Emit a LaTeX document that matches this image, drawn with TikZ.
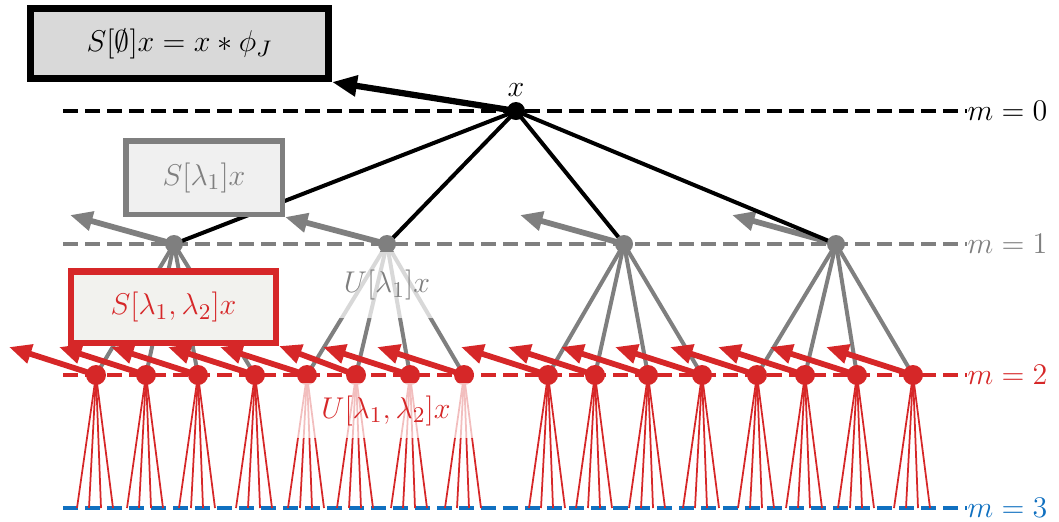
\documentclass[tikz,border=0pt]{standalone}
\usepackage{amsmath,amssymb}
\usepackage{tikz}
\usetikzlibrary{arrows.meta,positioning}
\usepackage{xcolor}
\definecolor{lvlgray}{HTML}{7F7F7F}
\definecolor{lvlred}{HTML}{D62728}
\definecolor{lvlblue}{HTML}{1070C0}
\definecolor{boxgray}{HTML}{D9D9D9}
\definecolor{boxlight}{HTML}{F0F0F0}
\definecolor{boxwarm}{HTML}{F2F2EE}
\newcommand{\lblsize}{\fontsize{13}{16}\selectfont}
\tikzset{
  levelline/.style={line width=1.8pt,dash pattern=on 6pt off 2.8pt},
  levellabel/.style={anchor=west,inner sep=0pt,font=\lblsize},
  outbox/.style={inner sep=0pt,font=\lblsize},
  fadelabel/.style={fill=white,fill opacity=0.7,text opacity=1,inner sep=0pt,font=\lblsize},
  outarrow/.style={line width=2.3pt,-{Triangle[length=9pt,width=7.5pt]}},
  treeedge/.style={line width=1.6pt},
}
\begin{document}
\begin{tikzpicture}[x=0.4pt,y=-0.4pt]
\useasboundingbox (0,0) rectangle (1059,521);
% levels m=0..3
\foreach \lv/\ly/\lc in {0/111/black,1/244/lvlgray,2/375/lvlred,3/508/lvlblue}{
  \node[levellabel,text=\lc] (m\lv) at (967,\ly) {$m=\lv$};
  \coordinate (s\lv) at (63,\ly);
  \draw[levelline,\lc] (s\lv) -- (m\lv.west);
}
% positions of the paths
\coordinate (x0) at (516,111);
\foreach \i/\px in {1/174,2/387,3/624,4/836}
  \coordinate (a\i) at (\px,244);
\foreach \i/\px in {1/96,2/146,3/198,4/255,5/307,6/356,7/410,8/464,9/548,10/595,11/648,12/702,13/757,14/805,15/857,16/913}
  \coordinate (b\i) at (\px,375);
% m=2 -> m=3
\foreach \i in {1,...,16}
  \foreach \d in {-19,-7,5,17}
    \draw[lvlred,line width=0.7pt] (b\i) -- ++(\d,133);
% outputs of m=1
\foreach \i in {1,3,4}
  \draw[outarrow,lvlgray] (a\i) -- ++(-104,-29);
% m=1 -> m=2
\foreach \j in {1,...,16}{
  \pgfmathtruncatemacro{\k}{div(\j-1,4)+1}
  \draw[treeedge,lvlgray] (a\k) -- (b\j);
}
% m=0 -> m=1
\foreach \i in {1,...,4}
  \draw[treeedge] (x0) -- (a\i);
\node[outbox,draw=lvlgray,line width=2.2pt,fill=boxlight,text=lvlgray,minimum width=62.6pt,minimum height=29.4pt] (sl1) at (204,177.5) {$S[\lambda_1]x$};
\draw[outarrow,lvlgray] (a2) -- (sl1.south east);
\node[outbox,draw=lvlred,line width=2.6pt,fill=boxwarm,text=lvlred,minimum width=81.8pt,minimum height=28.6pt] (sl2) at (173.5,307) {$S[\lambda_1,\lambda_2]x$};
% outputs of m=2
\foreach \i in {1,...,5,7,8,...,16}
  \draw[outarrow,lvlred] (b\i) -- ++(-87,-28);
\draw[outarrow,lvlred] (b6) -- (sl2.south east);
% output of m=0
\node[outbox,draw=black,line width=2.8pt,fill=boxgray,minimum width=119.2pt,minimum height=28pt] (sl0) at (179.5,43.5) {$S[\emptyset]x = x * \phi_J$};
\draw[outarrow,line width=2.5pt,-{Triangle[length=10pt,width=8pt]}] (x0) -- (sl0.south east);
% dots
\fill (x0) circle (3.6pt);
\foreach \i in {1,...,4}
  \fill[lvlgray] (a\i) circle (3.6pt);
\foreach \i in {1,...,16}
  \fill[lvlred] (b\i) circle (4pt);
\node[font=\lblsize] (xlab) at (516,90) {$x$};
\node[fadelabel,text=lvlgray,minimum width=46pt,minimum height=26.4pt] (ul1) at (387,285) {$U[\lambda_1]x$};
\node[fadelabel,text=lvlred,minimum width=75pt,minimum height=22pt] (ul2) at (386,410.5) {$U[\lambda_1,\lambda_2]x$};
\end{tikzpicture}
\end{document}
